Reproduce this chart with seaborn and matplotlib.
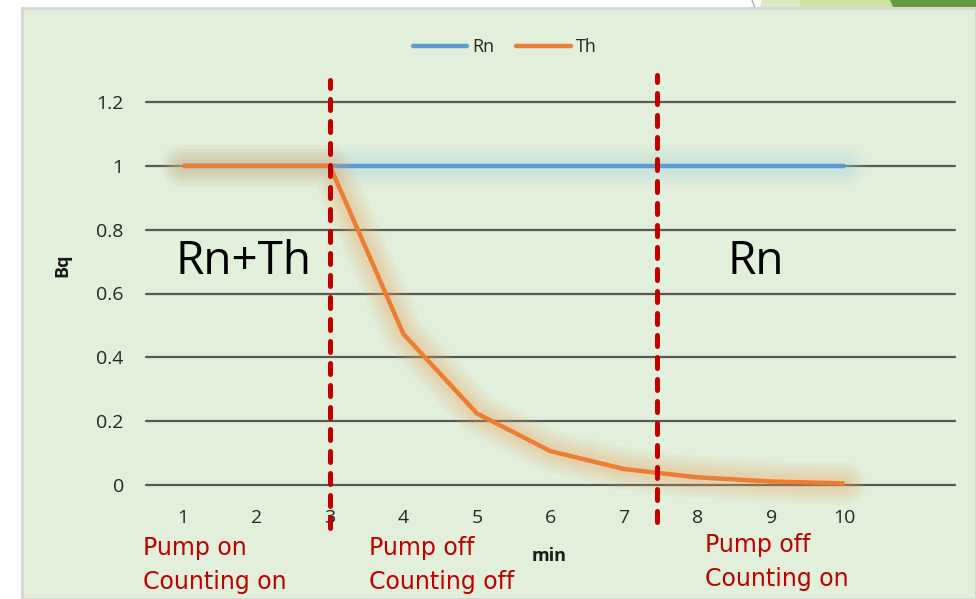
import matplotlib
matplotlib.use("Agg")
import matplotlib.pyplot as plt
import matplotlib.patheffects as pe
from matplotlib.patches import Rectangle, Polygon
import seaborn as sns
import pandas as pd

# ---- data -------------------------------------------------------------
minutes = [1, 2, 3, 4, 5, 6, 7, 8, 9, 10]
rn_bq = [1, 1, 1, 1, 1, 1, 1, 1, 1, 1]
th_bq = [1, 1, 1, 0.473, 0.224, 0.106, 0.050, 0.024, 0.011, 0.005]
y_ticks = [0, 0.2, 0.4, 0.6, 0.8, 1, 1.2]
y_tick_labels = ["0", "0.2", "0.4", "0.6", "0.8", "1", "1.2"]
phase_edges = [3, 7.45]
phase_labels = ["Pump on\nCounting on", "Pump off\nCounting off", "Pump off\nCounting on"]
region_labels = ["Rn+Th", "Rn"]

df = pd.concat([
    pd.DataFrame({"min": minutes, "Bq": rn_bq, "series": "Rn"}),
    pd.DataFrame({"min": minutes, "Bq": th_bq, "series": "Th"}),
])

BLUE = "#5b9bd5"
ORANGE = "#ed7d31"
RED = "#c00000"
PANEL = "#e2efda"

sns.set_theme(style="white")
plt.rcParams["font.family"] = ["Open Sans", "DejaVu Sans"]

W, H = 976, 599
fig = plt.figure(figsize=(W / 100, H / 100), dpi=100)
fig.patch.set_facecolor("white")


def fx(x):
    return x / W


def fy(y):
    return 1 - y / H


# slide panel and top-right ornaments (kept behind the axes)
fig.patches.append(Rectangle((fx(22), 0), 1 - fx(22), fy(8), transform=fig.transFigure,
                             facecolor=PANEL, edgecolor="#d6d6d6", linewidth=2, zorder=-10))
fig.patches.append(Polygon([(fx(762), fy(0)), (fx(976), fy(0)), (fx(976), fy(7)), (fx(760), fy(7))],
                           closed=True, transform=fig.transFigure, facecolor="#dce9c3",
                           edgecolor="none", zorder=-10))
fig.patches.append(Polygon([(fx(800), fy(0)), (fx(890), fy(0)), (fx(893), fy(7)), (fx(800), fy(7))],
                           closed=True, transform=fig.transFigure, facecolor="#d0e2a0",
                           edgecolor="none", zorder=-10))
fig.patches.append(Polygon([(fx(890), fy(0)), (fx(976), fy(0)), (fx(976), fy(7)), (fx(893), fy(7))],
                           closed=True, transform=fig.transFigure, facecolor="#679a3d",
                           edgecolor="none", zorder=-10))
fig.lines.append(plt.Line2D([fx(752), fx(755)], [fy(0), fy(8)], transform=fig.transFigure,
                            color="#b0b0b0", linewidth=1, zorder=-10))

ax = fig.add_axes([fx(146), fy(485), fx(955) - fx(146), fy(102) - fy(485)])
ax.set_facecolor("none")
ax.set_zorder(1)


def glow(color, alpha):
    # soft halo: stacked wide translucent strokes with rounded ends
    layers = []
    for w in (30, 25, 20, 16, 12, 9):
        layers.append(pe.Stroke(linewidth=w, foreground=color, alpha=alpha,
                                capstyle="round", joinstyle="round"))
    layers.append(pe.Normal())
    return layers


sns.lineplot(data=df, x="min", y="Bq", hue="series", palette={"Rn": BLUE, "Th": ORANGE},
             linewidth=3.2, ax=ax, legend=False, zorder=4)
ax.lines[0].set_path_effects(glow("#a8d8e8", 0.07))
ax.lines[1].set_path_effects(glow("#e6a25a", 0.065))
for ln in ax.lines:
    ln.set_clip_on(False)
    ln.set_solid_capstyle("butt")

ax.set_xlim(0.5, 11.5)
ax.set_ylim(0, 1.2)
ax.set_yticks(y_ticks)
ax.set_yticklabels(y_tick_labels)
ax.set_xticks(minutes)
ax.set_xticklabels([str(m) for m in minutes])
ax.tick_params(axis="both", length=0, labelsize=14, labelcolor="#262626")
ax.tick_params(axis="y", pad=16)
ax.tick_params(axis="x", pad=17)
ax.grid(False)
for y in y_ticks:
    ax.axhline(y, color="#595959", linewidth=1.6, zorder=1, clip_on=False)
for s in ax.spines.values():
    s.set_visible(False)

ax.set_xlabel("")
ax.set_ylabel("")
fig.text(fx(549), fy(556), "min", ha="center", va="center", fontsize=13,
         fontweight="bold", color="#1a1a1a")
fig.text(fx(62), fy(265), "Bq", ha="center", va="center", fontsize=13,
         fontweight="bold", rotation=90, color="#1a1a1a")

# phase boundaries
for xe, (y0, y1) in zip(phase_edges, [(-0.135, 1.27), (-0.116, 1.285)]):
    ax.plot([xe, xe], [y0, y1], color=RED, linewidth=3.6, linestyle=(0, (2.2, 2.2)),
            dash_capstyle="round", clip_on=False, zorder=6)

# region and phase annotations
fig.text(fx(175), fy(262), region_labels[0], ha="left", va="center", fontsize=33, color="black")
fig.text(fx(728), fy(262), region_labels[1], ha="left", va="center", fontsize=33, color="black")
for (xp, yp), txt in zip([(143, 565), (369, 565), (705, 562)], phase_labels):
    fig.text(fx(xp), fy(yp), txt, ha="left", va="center", fontsize=17, color=RED,
             family="DejaVu Sans", linespacing=1.5)

# legend
handles = [plt.Line2D([], [], color=BLUE, linewidth=3.2),
           plt.Line2D([], [], color=ORANGE, linewidth=3.2)]
fig.legend(handles, ["Rn", "Th"], loc="center", bbox_to_anchor=(fx(505), fy(47)), ncol=2,
           frameon=False, fontsize=13, handlelength=3.0, handletextpad=0.3, columnspacing=1.2)

fig.savefig("out.png", dpi=100, facecolor=fig.get_facecolor())
